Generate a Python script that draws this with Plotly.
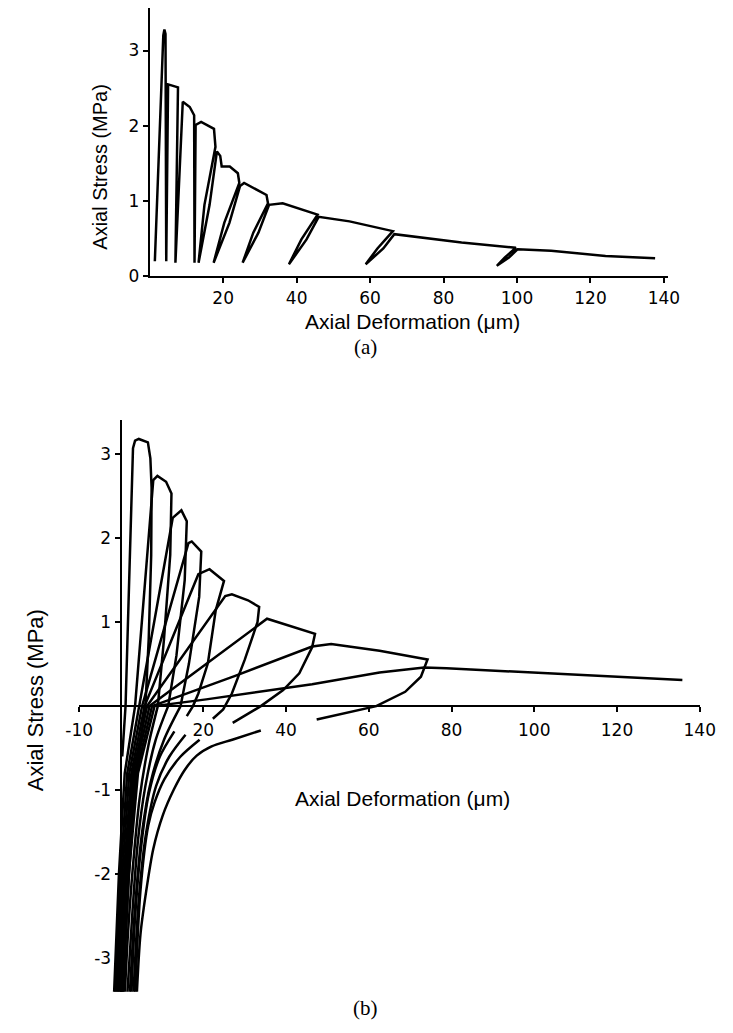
import plotly.graph_objects as go

# ---------------- (a) cyclic tension: stress vs deformation ----------------
a_deformation = [1.4, 3.7, 4.0, 4.3, 4.5,
                 5.0, 7.7, 7.0,
                 9.0, 10.9, 12.1, 12.2,
                 12.5, 14.0, 17.5, 17.9,
                 14.9, 13.3, 16.3, 18.3,
                 19.2, 19.6, 21.8, 24.0, 24.4,
                 20.3, 17.4, 21.7, 24.6,
                 25.7, 31.8, 32.2,
                 28.2, 25.3, 29.6, 32.5,
                 36.2, 45.7,
                 41.3, 37.9, 42.7, 46.0,
                 54.4, 66.2,
                 62.0, 58.8, 63.6, 66.6,
                 84.9, 99.7,
                 96.7, 94.5, 97.8, 100.2,
                 109.3, 124.1, 137.6]
a_stress = [0.2, 3.2, 3.28, 3.22, 0.2,
            2.55, 2.51, 0.18,
            2.32, 2.25, 2.14, 0.18,
            2.01, 2.05, 1.96, 1.72,
            0.95, 0.18, 0.95, 1.66,
            1.6, 1.46, 1.46, 1.37, 1.24,
            0.71, 0.18, 0.71, 1.2,
            1.24, 1.08, 0.97,
            0.58, 0.18, 0.58, 0.95,
            0.97, 0.82,
            0.49, 0.16, 0.49, 0.79,
            0.73, 0.6,
            0.37, 0.16, 0.37, 0.56,
            0.45, 0.38,
            0.25, 0.14, 0.25, 0.36,
            0.34, 0.27, 0.24]

a_xticks = [20, 40, 60, 80, 100, 120, 140]
a_yticks = [0, 1, 2, 3]

# ---------------- (b) cyclic tension-compression ----------------
# tension branch of each cycle: reloading from compression, envelope, unloading
b_tension_x = [
    [0.4, 1.2, 3.0, 3.5, 4.4, 6.6, 7.2, 7.5, 7.4, 6.8, 6.0],
    [-1.6, -0.4, 1.0, 3.5, 7.9, 8.9, 11.0, 12.3, 12.0, 10.5, 9.0],
    [-1.3, 0.0, 1.6, 4.5, 12.6, 14.7, 16.0, 15.5, 13.5, 11.5],
    [-1.0, 0.4, 2.1, 5.2, 16.4, 17.2, 19.5, 19.0, 16.5, 14.5],
    [-0.7, 0.8, 2.6, 5.8, 18.8, 21.5, 25.0, 23.0, 21.1, 18.8, 17.5, 16.0],
    [-0.4, 1.1, 3.0, 6.4, 25.3, 26.9, 30.8, 33.5, 33.1, 30.0, 26.9, 24.8, 22.3],
    [-0.1, 1.4, 3.4, 7.0, 35.4, 47.0, 46.3, 43.2, 39.3, 33.9, 27.1],
    [0.2, 1.7, 3.8, 7.6, 27.7, 46.3, 50.9, 62.6, 74.2, 72.6, 68.8, 61.8, 47.4],
    [0.5, 2.0, 4.2, 8.2, 20.7, 34.7, 46.3, 62.6, 73.4, 78.8, 98.2, 135.8],
]
b_tension_y = [
    [-0.6, 0.0, 3.07, 3.16, 3.18, 3.14, 2.95, 2.6, 1.8, 0.8, 0.0],
    [-3.45, -2.0, -0.8, 0.0, 2.69, 2.74, 2.67, 2.53, 1.8, 0.8, 0.0],
    [-3.45, -2.0, -0.8, 0.0, 2.24, 2.33, 2.2, 1.5, 0.6, 0.0],
    [-3.45, -2.0, -0.8, 0.0, 1.94, 1.96, 1.84, 1.3, 0.5, 0.0],
    [-3.45, -2.0, -0.8, 0.0, 1.57, 1.63, 1.49, 1.14, 0.51, 0.15, 0.0, -0.12],
    [-3.45, -2.0, -0.8, 0.0, 1.31, 1.33, 1.26, 1.18, 1.0, 0.55, 0.15, -0.04, -0.15],
    [-3.45, -2.0, -0.8, 0.0, 1.04, 0.86, 0.70, 0.39, 0.19, 0.0, -0.2],
    [-3.45, -2.0, -0.8, 0.0, 0.36, 0.71, 0.74, 0.66, 0.555, 0.35, 0.17, 0.0, -0.16],
    [-3.45, -2.0, -0.8, 0.0, 0.08, 0.18, 0.26, 0.40, 0.46, 0.45, 0.40, 0.31],
]
# compression branch of each unloading, down to the bottom of the plot
b_compression_x = [
    [6.0, 4.6, 3.2, 1.8, 0.6],
    [9.0, 6.8, 4.6, 3.0, 1.8, 1.0],
    [11.5, 8.5, 6.0, 4.2, 2.8, 1.6],
    [14.5, 10.5, 7.3, 5.2, 3.5, 2.2],
    [13.0, 9.5, 6.8, 4.8, 3.4, 2.6],
    [15.7, 11.8, 8.6, 6.2, 4.4, 3.1],
    [19.1, 14.5, 10.6, 8.2, 6.7, 4.8, 3.5],
    [33.9, 27.0, 22.0, 18.4, 15.5, 12.9, 10.2, 7.9, 6.2, 4.8, 3.9],
]
b_compression_y = [
    [0.0, -0.5, -1.2, -2.2, -3.45],
    [0.0, -0.45, -1.1, -1.9, -2.7, -3.45],
    [0.0, -0.4, -0.95, -1.6, -2.5, -3.45],
    [0.0, -0.4, -0.9, -1.5, -2.4, -3.45],
    [-0.3, -0.6, -1.05, -1.75, -2.6, -3.45],
    [-0.34, -0.6, -0.95, -1.5, -2.3, -3.45],
    [-0.4, -0.6, -0.87, -1.15, -1.42, -2.2, -3.45],
    [-0.29, -0.4, -0.48, -0.59, -0.76, -0.99, -1.3, -1.7, -2.2, -2.72, -3.45],
]

b_xticks = [-10, 20, 40, 60, 80, 100, 120, 140]
b_yticks = [-3, -2, -1, 1, 2, 3]

W, H = 733, 1033
INK = "black"
LW = 2.5
tick_font = dict(family="DejaVu Sans", size=17, color=INK)
title_font = dict(family="Liberation Sans", size=21, color=INK)

fig = go.Figure()

fig.add_trace(go.Scatter(x=a_deformation, y=a_stress, mode="lines",
                         line=dict(color=INK, width=LW), xaxis="x", yaxis="y",
                         showlegend=False, hoverinfo="skip"))

for xs, ys in zip(b_tension_x, b_tension_y):
    fig.add_trace(go.Scatter(x=xs, y=ys, mode="lines",
                             line=dict(color=INK, width=LW), xaxis="x2", yaxis="y2",
                             showlegend=False, hoverinfo="skip"))
for xs, ys in zip(b_compression_x, b_compression_y):
    fig.add_trace(go.Scatter(x=xs, y=ys, mode="lines",
                             line=dict(color=INK, width=LW, shape="spline", smoothing=0.8),
                             xaxis="x2", yaxis="y2",
                             showlegend=False, hoverinfo="skip"))

# pixel geometry of both panels
a_left, a_right, a_bottom, a_top = 141.5, 681.5, 279.0, 7.7
b_left, b_right, b_bottom, b_top = 68.0, 715.0, 1001.4, 424.6
b_origin_x, b_origin_y = 111.1, 713.0

axis_common = dict(showgrid=False, zeroline=False, showline=True, linecolor=INK,
                   linewidth=2, ticks="outside", tickcolor=INK, tickwidth=2,
                   ticklen=5, tickfont=tick_font, fixedrange=True)

fig.update_layout(
    width=W, height=H,
    margin=dict(l=0, r=0, t=0, b=0),
    paper_bgcolor="white", plot_bgcolor="rgba(0,0,0,0)",
    xaxis=dict(domain=[a_left / W, a_right / W], range=[0, 141], anchor="y",
               tickvals=a_xticks, ticktext=[str(v) for v in a_xticks], **axis_common),
    yaxis=dict(domain=[1 - a_bottom / H, 1 - a_top / H], range=[0, 3.57], anchor="x",
               tickvals=a_yticks, ticktext=[str(v) for v in a_yticks], **axis_common),
    xaxis2=dict(domain=[b_left / W, b_right / W], range=[-10, 140], anchor="free",
                position=1 - b_origin_y / H, ticklabelstandoff=4,
                tickvals=b_xticks, ticktext=[str(v) for v in b_xticks],
                **axis_common),
    yaxis2=dict(domain=[1 - b_bottom / H, 1 - b_top / H], range=[-3.4, 3.4], anchor="free",
                position=b_origin_x / W,
                tickvals=b_yticks, ticktext=[str(v) for v in b_yticks], **axis_common),
)

annotations = [
    dict(text="Axial Deformation (\u03bcm)", x=415 / W, y=1 - 325 / H, font=title_font),
    dict(text="Axial Stress (MPa)", x=90 / W, y=1 - 168 / H, textangle=-90,
         font=dict(family="Liberation Sans", size=20, color=INK)),
    dict(text="Axial Deformation (\u03bcm)", x=405 / W, y=1 - 806 / H, font=title_font),
    dict(text="Axial Stress (MPa)", x=22 / W, y=1 - 707 / H, textangle=-90,
         font=dict(family="Liberation Sans", size=22, color=INK)),
    dict(text="(a)", x=366 / W, y=1 - 350 / H,
         font=dict(family="Liberation Serif", size=21, color=INK)),
    dict(text="(b)", x=366 / W, y=1 - 1018 / H,
         font=dict(family="Liberation Serif", size=21, color=INK)),
]
for ann in annotations:
    ann.update(xref="paper", yref="paper", showarrow=False, xanchor="center", yanchor="middle")
fig.update_layout(annotations=annotations)

fig.write_html("out.html")
